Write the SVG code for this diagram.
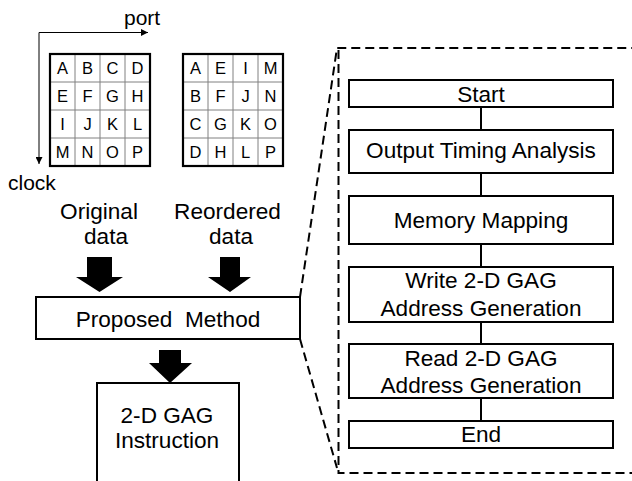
<svg xmlns="http://www.w3.org/2000/svg" width="632" height="481" viewBox="0 0 632 481">
<style>
text{font-family:"Liberation Sans",Arial,sans-serif;fill:#000;}
.t{font-size:22.6px;text-anchor:middle;}
.g{font-size:16.5px;text-anchor:middle;}
.ax{font-size:21px;}
.box{fill:#fff;stroke:#000;stroke-width:2;}
.cell{stroke:#808080;stroke-width:1;fill:none;}
.outer{fill:none;stroke:#000;stroke-width:2.2;}
.dash{fill:none;stroke:#000;stroke-width:2;stroke-dasharray:9,5;}
.conn{stroke:#000;stroke-width:2;fill:none;}
</style>
<defs>
<marker id="ah" viewBox="0 0 10 10" refX="10" refY="5" markerWidth="7" markerHeight="7" markerUnits="userSpaceOnUse" orient="auto">
<path d="M0,0 L10,5 L0,10 z" fill="#000"/>
</marker>
</defs>

<!-- axes -->
<g id="axes">
<path d="M39,32.5 H148" stroke="#000" stroke-width="1" marker-end="url(#ah)"/>
<path d="M39,32.5 V164" stroke="#000" stroke-width="1" marker-end="url(#ah)"/>
<text class="ax" x="124" y="25">port</text>
<text class="ax" x="8" y="190">clock</text>
</g>

<!-- grid 1 -->
<g id="grid-original">
<path class="cell" d="M75,54V166M100,54V166M125,54V166M50,82H150M50,110H150M50,138H150"/>
<rect class="outer" x="50" y="54" width="100" height="112"/>
<text class="g" x="62.5" y="74">A</text><text class="g" x="87.5" y="74">B</text><text class="g" x="112.5" y="74">C</text><text class="g" x="137.5" y="74">D</text>
<text class="g" x="62.5" y="102">E</text><text class="g" x="87.5" y="102">F</text><text class="g" x="112.5" y="102">G</text><text class="g" x="137.5" y="102">H</text>
<text class="g" x="62.5" y="130">I</text><text class="g" x="87.5" y="130">J</text><text class="g" x="112.5" y="130">K</text><text class="g" x="137.5" y="130">L</text>
<text class="g" x="62.5" y="158">M</text><text class="g" x="87.5" y="158">N</text><text class="g" x="112.5" y="158">O</text><text class="g" x="137.5" y="158">P</text>
</g>

<!-- grid 2 -->
<g id="grid-reordered">
<path class="cell" d="M208,54V166M233,54V166M258,54V166M183,82H283M183,110H283M183,138H283"/>
<rect class="outer" x="183" y="54" width="100" height="112"/>
<text class="g" x="195.5" y="74">A</text><text class="g" x="220.5" y="74">E</text><text class="g" x="245.5" y="74">I</text><text class="g" x="270.5" y="74">M</text>
<text class="g" x="195.5" y="102">B</text><text class="g" x="220.5" y="102">F</text><text class="g" x="245.5" y="102">J</text><text class="g" x="270.5" y="102">N</text>
<text class="g" x="195.5" y="130">C</text><text class="g" x="220.5" y="130">G</text><text class="g" x="245.5" y="130">K</text><text class="g" x="270.5" y="130">O</text>
<text class="g" x="195.5" y="158">D</text><text class="g" x="220.5" y="158">H</text><text class="g" x="245.5" y="158">L</text><text class="g" x="270.5" y="158">P</text>
</g>

<g id="label-original">
<text class="t" x="99" y="219">Original</text>
<text class="t" x="106" y="244">data</text>
</g>
<g id="label-reordered">
<text class="t" x="227.5" y="219">Reordered</text>
<text class="t" x="231" y="244">data</text>
</g>

<g id="proposed">
<rect class="box" x="36" y="297" width="264" height="42"/>
<text class="t" x="168" y="327" xml:space="preserve">Proposed  Method</text>
</g>

<g id="instruction">
<path class="box" d="M97,482 V383 H239 V482"/>
<text class="t" x="167" y="423">2-D GAG</text>
<text class="t" x="167" y="448">Instruction</text>
</g>

<!-- flowchart -->
<g id="start"><rect class="box" x="349" y="80" width="264" height="27"/><text class="t" x="481" y="101.5">Start</text></g>
<g id="timing"><rect class="box" x="349" y="130" width="264" height="43"/><text class="t" x="481" y="158">Output Timing Analysis</text></g>
<g id="mapping"><rect class="box" x="349" y="196" width="264" height="48"/><text class="t" x="481" y="228">Memory Mapping</text></g>
<g id="write"><rect class="box" x="349" y="267" width="264" height="55"/><text class="t" x="481" y="288">Write 2-D GAG</text><text class="t" x="481" y="315.5">Address Generation</text></g>
<g id="read"><rect class="box" x="349" y="344" width="264" height="54"/><text class="t" x="481" y="366">Read 2-D GAG</text><text class="t" x="481" y="392.5">Address Generation</text></g>
<g id="end"><rect class="box" x="349" y="421" width="264" height="27"/><text class="t" x="481" y="442">End</text></g>

<g id="connectors">
<path class="conn" d="M481,107V130M481,173V196M481,244V267M481,322V344M481,398V421"/>
<polygon points="87,257 112,257 112,277 123,277 99.5,292 76,277 87,277" fill="#000"/>
<polygon points="220,257 240,257 240,277 251,277 230,292 208,277 220,277" fill="#000"/>
<polygon points="159,350 181,350 181,363 192,363 170,383 149,363 159,363" fill="#000"/>
<path class="dash" d="M300,297 L337,48 H632"/>
<path class="dash" d="M338.5,50 V473 H632"/>
<path class="dash" d="M300,339 L337,468"/>
</g>
</svg>
